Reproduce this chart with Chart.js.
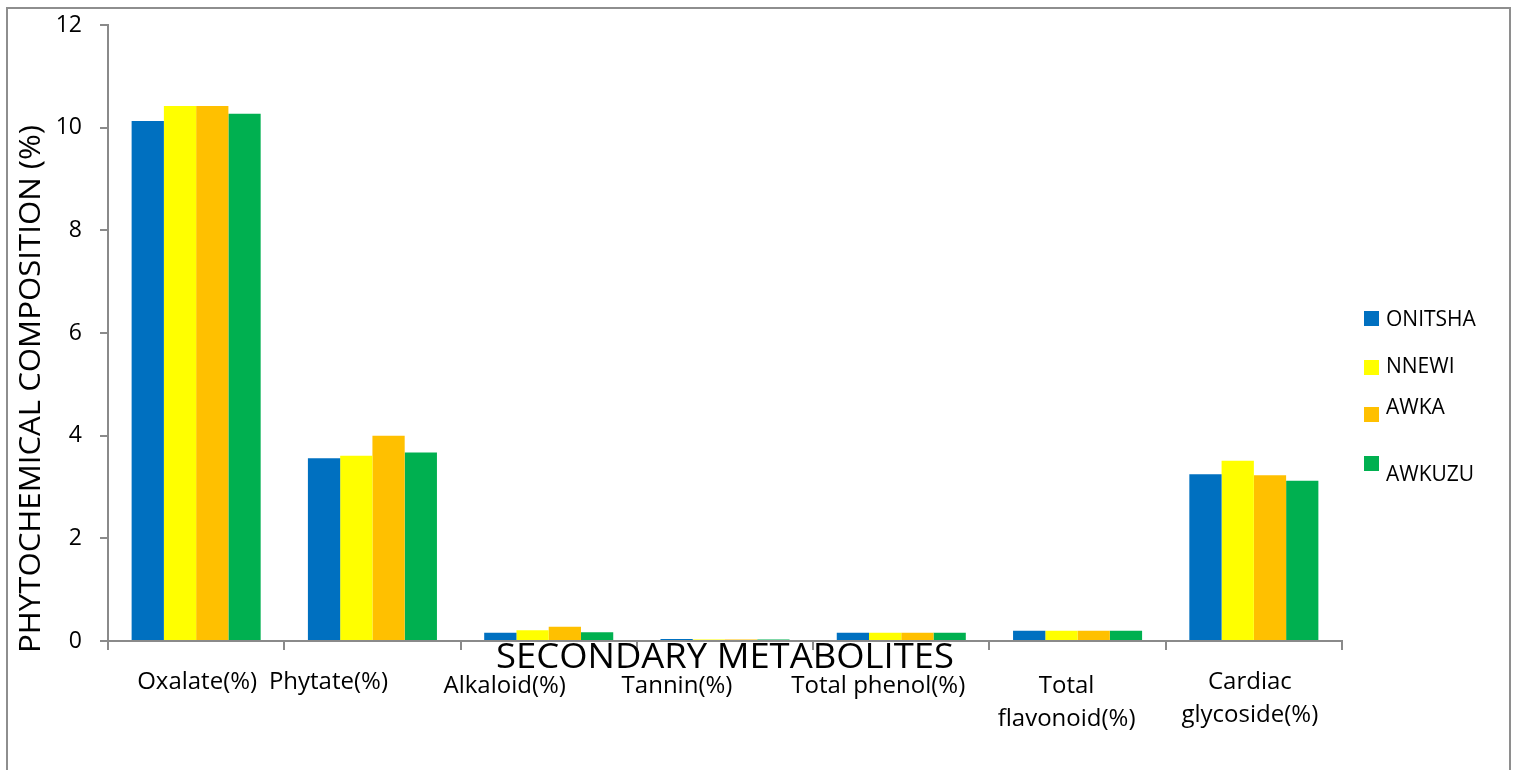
<!DOCTYPE html>
<html>
<head>
<meta charset="utf-8">
<script src="https://cdn.jsdelivr.net/npm/chart.js@4"></script>
<style>
  html, body { margin: 0; padding: 0; background: #ffffff; overflow: hidden; }
  #frame { position: absolute; left: 6px; top: 7px; width: 1505px; height: 820px; border: 2px solid #8e8e8e; box-sizing: border-box; }
  #wrap { position: absolute; left: 0; top: 0; width: 1513px; height: 770px; }
</style>
</head>
<body>
<div id="frame"></div>
<div id="wrap"><canvas id="chart" width="1513" height="770"></canvas></div>
<script>
// Secondary metabolites measured for each town (percent composition)
const categories = [
  ['Oxalate(%)'],
  ['Phytate(%)'],
  ['Alkaloid(%)'],
  ['Tannin(%)'],
  ['Total phenol(%)'],
  ['Total', 'flavonoid(%)'],
  ['Cardiac', 'glycoside(%)']
];
const seriesNames = ['ONITSHA', 'NNEWI', 'AWKA', 'AWKUZU'];
const onitsha = [10.13, 3.56, 0.16, 0.04, 0.16, 0.20, 3.25];
const nnewi   = [10.42, 3.61, 0.21, 0.03, 0.16, 0.20, 3.51];
const awka    = [10.42, 4.00, 0.28, 0.03, 0.16, 0.20, 3.23];
const awkuzu  = [10.27, 3.67, 0.17, 0.03, 0.16, 0.20, 3.12];
const yTicks  = [0, 2, 4, 6, 8, 10, 12];

const seriesColors = ['#0070C0', '#FFFF00', '#FFC000', '#00B050'];
const axisColor = '#8a8a8a';
const FONT = '"Open Sans", "Noto Sans", sans-serif';

// Small per-label nudges for the category captions (dx, dy)
const captionNudge = [[1, 0], [-44, 0], [-44, 4], [-48, 4], [-23, 4], [-11, 4], [-4, 0]];
// Legend rows: swatch top and text middle
const legendRows = [[311, 320], [360, 367], [407, 408], [456, 475]];

function drawFittedText(ctx, text, x, y, width) {
  const w = ctx.measureText(text).width;
  ctx.save();
  ctx.translate(x, y);
  ctx.scale(width / w, 1);
  ctx.fillText(text, 0, 0);
  ctx.restore();
}

const decorations = {
  id: 'decorations',
  afterDraw(chart) {
    const { ctx, scales: { x } } = chart;
    ctx.save();
    ctx.fillStyle = '#000000';

    // category captions under the x axis
    ctx.font = '24px ' + FONT;
    ctx.textAlign = 'center';
    ctx.textBaseline = 'alphabetic';
    categories.forEach((lines, i) => {
      const cx = x.getPixelForValue(i) + captionNudge[i][0];
      lines.forEach((t, j) => {
        ctx.fillText(t, cx, x.top + 48 + captionNudge[i][1] + j * 33);
      });
    });

    // x axis title (sits over the captions)
    ctx.font = '34px ' + FONT;
    drawFittedText(ctx, 'SECONDARY METABOLITES', (x.left + x.right) / 2, x.top + 27, 458);

    // y axis title
    ctx.save();
    ctx.translate(30, 389);
    ctx.rotate(-Math.PI / 2);
    ctx.font = '29px ' + FONT;
    drawFittedText(ctx, 'PHYTOCHEMICAL COMPOSITION (%)', 0, 10, 528);
    ctx.restore();

    // legend
    ctx.font = '21px ' + FONT;
    ctx.textAlign = 'left';
    ctx.textBaseline = 'middle';
    chart.data.datasets.forEach((ds, i) => {
      ctx.fillStyle = ds.backgroundColor;
      ctx.fillRect(1364, legendRows[i][0], 15, 15);
      ctx.fillStyle = '#000000';
      ctx.fillText(ds.label, 1386, legendRows[i][1]);
    });
    ctx.restore();
  }
};

const values = [onitsha, nnewi, awka, awkuzu];

function build() {
  new Chart(document.getElementById('chart'), {
    type: 'bar',
    data: {
      labels: categories,
      datasets: seriesNames.map((name, i) => ({
        label: name,
        data: values[i],
        backgroundColor: seriesColors[i],
        borderWidth: 0,
        categoryPercentage: 0.732,
        barPercentage: 1.0
      }))
    },
    options: {
      responsive: false,
      devicePixelRatio: 1,
      animation: false,
      layout: { padding: { left: 0, top: 25, right: 171, bottom: 0 } },
      plugins: {
        legend: { display: false },
        tooltip: { enabled: false },
        title: { display: false }
      },
      scales: {
        x: {
          offset: true,
          grid: { display: true, offset: true, drawOnChartArea: false, drawTicks: true, tickLength: 9, color: axisColor, lineWidth: 2 },
          border: { display: true, color: axisColor, width: 2 },
          ticks: { display: false },
          afterFit(scale) { scale.height = 129; scale.paddingLeft = 0; scale.paddingRight = 0; }
        },
        y: {
          min: 0,
          max: 12,
          afterBuildTicks(scale) { scale.ticks = yTicks.map(v => ({ value: v })); },
          grid: { display: true, drawOnChartArea: false, drawTicks: true, tickLength: 8, color: axisColor, lineWidth: 2 },
          border: { display: true, color: axisColor, width: 2 },
          ticks: { color: '#000000', font: { family: FONT, size: 23 }, padding: 18 },
          afterFit(scale) { scale.width = 108; scale.paddingTop = 0; scale.paddingBottom = 0; }
        }
      }
    },
    plugins: [decorations]
  });
}

if (document.fonts && document.fonts.load) {
  Promise.all([
    document.fonts.load('24px "Open Sans"'),
    document.fonts.load('34px "Open Sans"')
  ]).then(build, build);
} else {
  build();
}
</script>
</body>
</html>
